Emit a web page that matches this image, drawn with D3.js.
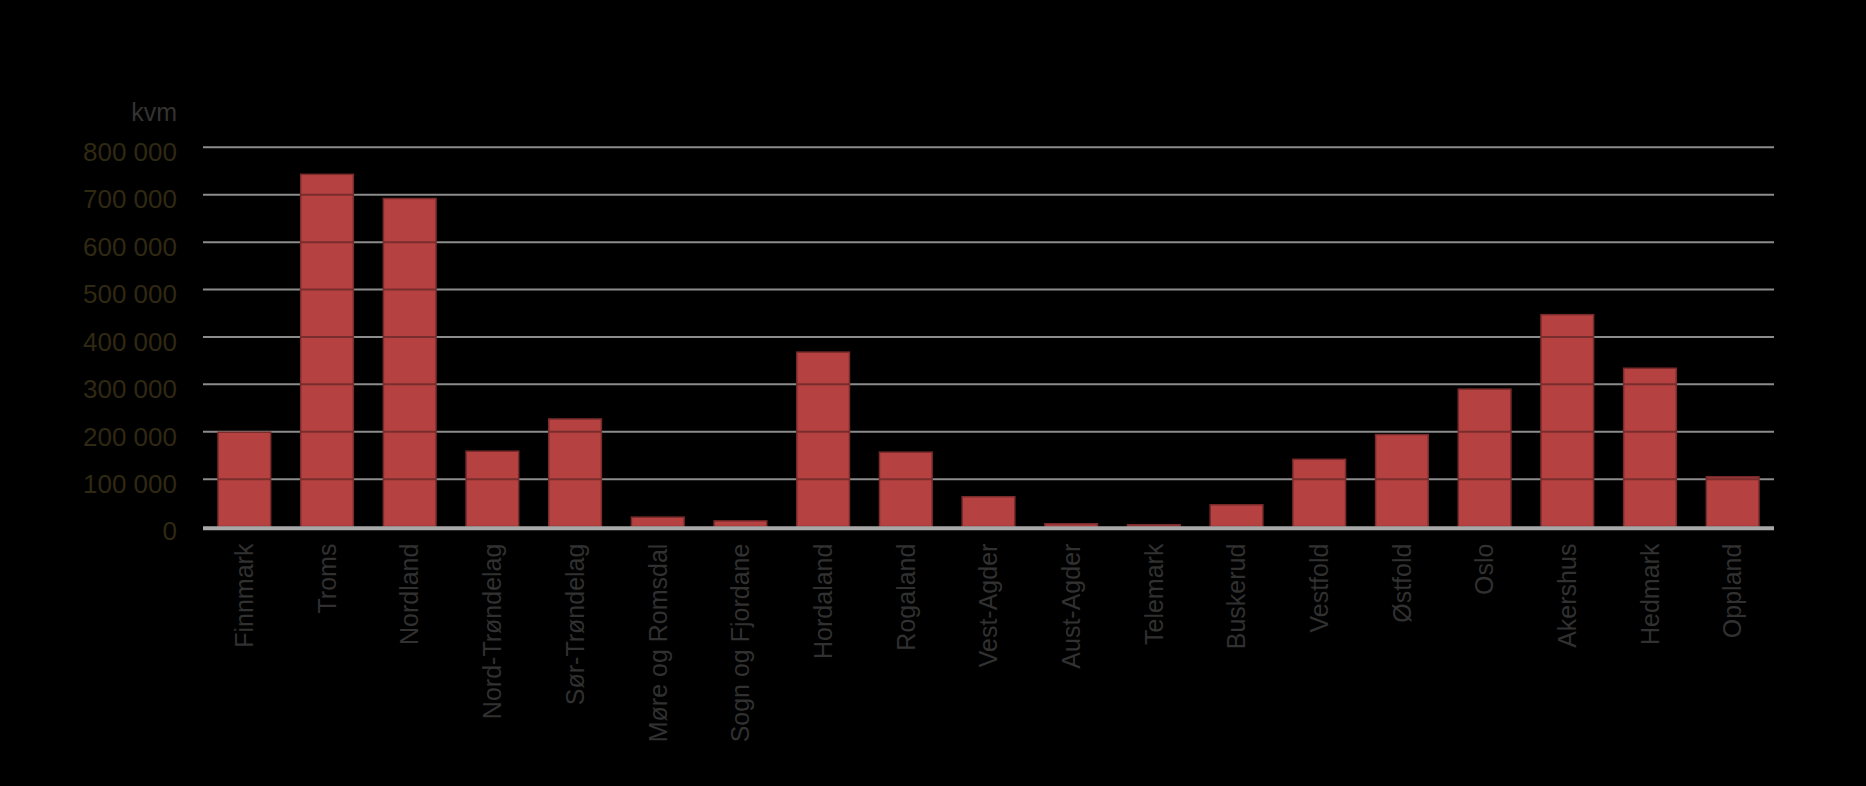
<!DOCTYPE html>
<html>
<head>
<meta charset="utf-8">
<script src="https://cdn.jsdelivr.net/npm/d3@7"></script>
<style>
  html, body { margin: 0; padding: 0; background: #000; }
  svg { display: block; }
</style>
</head>
<body>
<svg id="chart" width="1866" height="786"></svg>
<script>
const categories = ["Finnmark","Troms","Nordland","Nord-Trøndelag","Sør-Trøndelag","Møre og Romsdal","Sogn og Fjordane","Hordaland","Rogaland","Vest-Agder","Aust-Agder","Telemark","Buskerud","Vestfold","Østfold","Oslo","Akershus","Hedmark","Oppland"];
const values = [199000, 743000, 692000, 159000, 227000, 20000, 12000, 368000, 157000, 63000, 6000, 4000, 46000, 142000, 194000, 290000, 447000, 334000, 105000];
const yTicks = [0, 100000, 200000, 300000, 400000, 500000, 600000, 700000, 800000];
const unitLabel = "kvm";

const FONT = "'Liberation Sans', Arial, sans-serif";
const svg = d3.select("#chart");

const x = d3.scaleBand().domain(categories).range([203, 1774]).paddingInner(0.363).paddingOuter(0.1815);
const y = d3.scaleLinear().domain([0, 800000]).range([526.6, 147.3]);

const loc = d3.formatLocale({decimal: ",", thousands: " ", grouping: [3], currency: ["", ""]});
const fmt = loc.format(",");

// gridlines behind bars
const gridVals = yTicks.filter(v => v > 0);
svg.append("g").selectAll("line").data(gridVals).join("line")
  .attr("x1", 203).attr("x2", 1774)
  .attr("y1", d => y(d)).attr("y2", d => y(d))
  .attr("stroke", "#8c8c8c").attr("stroke-width", 2);

// bars
svg.append("g").selectAll("rect").data(categories).join("rect")
  .attr("x", d => x(d))
  .attr("width", x.bandwidth())
  .attr("y", (d, i) => y(values[i]))
  .attr("height", (d, i) => y(0) - y(values[i]))
  .attr("fill", "#b54141")
  .attr("stroke", "#7a2b2b")
  .attr("stroke-width", 1.5);

// gridlines over bars (darker), clipped to bars
const clip = svg.append("defs").append("clipPath").attr("id", "barclip");
clip.selectAll("rect").data(categories).join("rect")
  .attr("x", d => x(d))
  .attr("width", x.bandwidth())
  .attr("y", (d, i) => y(values[i]))
  .attr("height", (d, i) => y(0) - y(values[i]));
svg.append("g").attr("clip-path", "url(#barclip)").selectAll("line").data(gridVals).join("line")
  .attr("x1", 203).attr("x2", 1774)
  .attr("y1", d => y(d)).attr("y2", d => y(d))
  .attr("stroke", "#7a2d2d").attr("stroke-width", 2);

// baseline
svg.append("line")
  .attr("x1", 203).attr("x2", 1774)
  .attr("y1", y(0) + 1.6).attr("y2", y(0) + 1.6)
  .attr("stroke", "#a8a8a8").attr("stroke-width", 4);

// y axis
const yAxis = svg.append("g").attr("transform", "translate(203,0)")
  .call(d3.axisLeft(y).tickValues(yTicks).tickSize(0).tickPadding(26).tickFormat(fmt));
yAxis.select(".domain").remove();
yAxis.selectAll("text")
  .attr("dy", "0.51em")
  .attr("fill", "#302912")
  .style("font-family", FONT).style("font-size", "26px");

// unit label
svg.append("text").attr("x", 177).attr("y", 120.7).attr("text-anchor", "end")
  .attr("fill", "#333333").style("font-family", FONT).style("font-size", "25px")
  .text(unitLabel);

// x axis
const xAxis = svg.append("g").attr("transform", `translate(0,${y(0)})`)
  .call(d3.axisBottom(x).tickSize(0));
xAxis.select(".domain").remove();
xAxis.selectAll("text")
  .attr("transform", "rotate(-90)")
  .attr("x", -17).attr("y", 0).attr("dy", "0.35em")
  .attr("text-anchor", "end")
  .attr("fill", "#313131")
  .style("font-family", FONT).style("font-size", "25px");
</script>
</body>
</html>
